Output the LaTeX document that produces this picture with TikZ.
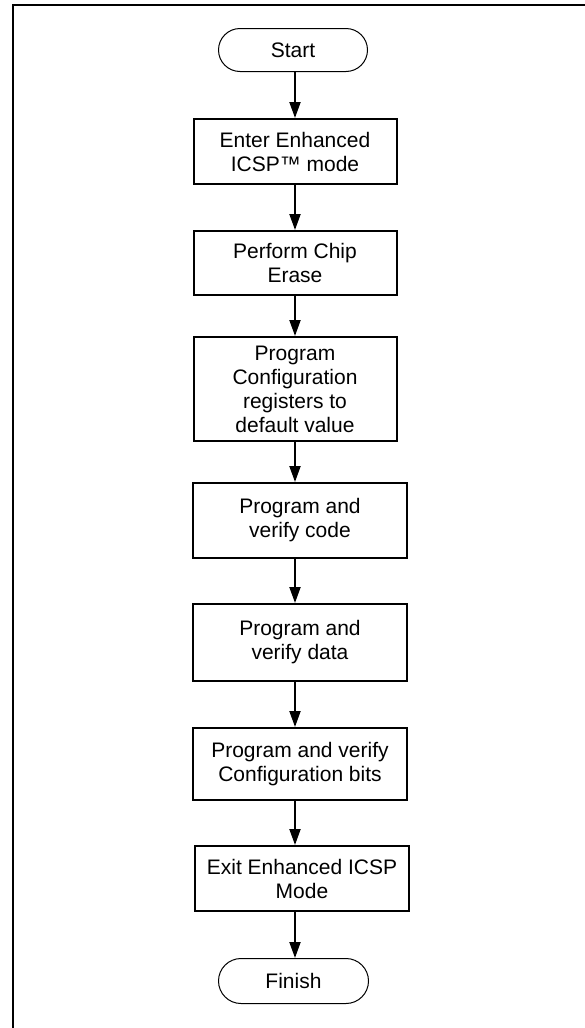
\documentclass[tikz,border=0pt]{standalone}
\usepackage{fontspec}
\setmainfont{Liberation Sans}
\usetikzlibrary{arrows.meta}
\begin{document}
\begin{tikzpicture}[x=1pt,y=-1pt,
    every node/.style={font=\fontsize{21}{24}\selectfont, align=center, inner sep=0pt},
    term/.style={draw, line width=1pt, rounded corners=21.5pt, minimum width=149pt, minimum height=43pt},
    proc/.style={draw, line width=2pt, minimum width=203pt},
    wide/.style={proc, minimum width=214pt},
    flow/.style={line width=2pt, -{Triangle[width=11pt,length=16pt]}}]
      \useasboundingbox (0,0) rectangle (585,1028);
      \draw[line width=2pt] (13,1028) -- (13,5) -- (585,5);
      \coordinate (spine) at (295,0);
      \draw
        (293,50) node[term] (start){Start}
        (295,151.5) node[proc, minimum height=65pt] (enter){Enter Enhanced\\ICSP™ mode}
        (295,263) node[proc, minimum height=64pt] (erase){Perform Chip\\Erase}
        (295,389) node[proc, minimum height=104pt] (config){Program\\Configuration\\registers to\\default value}
        (300,520.5) node[wide, minimum height=75pt] (code){Program and\\verify code}
        (300,642.5) node[wide, minimum height=77pt] (data){Program and\\verify data}
        (300,764) node[wide, minimum height=72pt] (bits){Program and verify\\Configuration bits}
        (302,878.5) node[wide, minimum height=65pt] (exit){Exit Enhanced ICSP\\Mode}
        (293.5,981) node[term, minimum width=150pt, minimum height=45pt, rounded corners=22.5pt] (finish){Finish};
      \begin{scope}[flow]
        \draw (start.south -| spine) to (enter.north -| spine);
        \draw (enter.south -| spine) to (erase.north -| spine);
        \draw (erase.south -| spine) to (config.north -| spine);
        \draw (config.south -| spine) to (code.north -| spine);
        \draw (code.south -| spine) to (data.north -| spine);
        \draw (data.south -| spine) to (bits.north -| spine);
        \draw (bits.south -| spine) to (exit.north -| spine);
        \draw (exit.south -| spine) to (finish.north -| spine);
      \end{scope}
    \end{tikzpicture}
\end{document}
